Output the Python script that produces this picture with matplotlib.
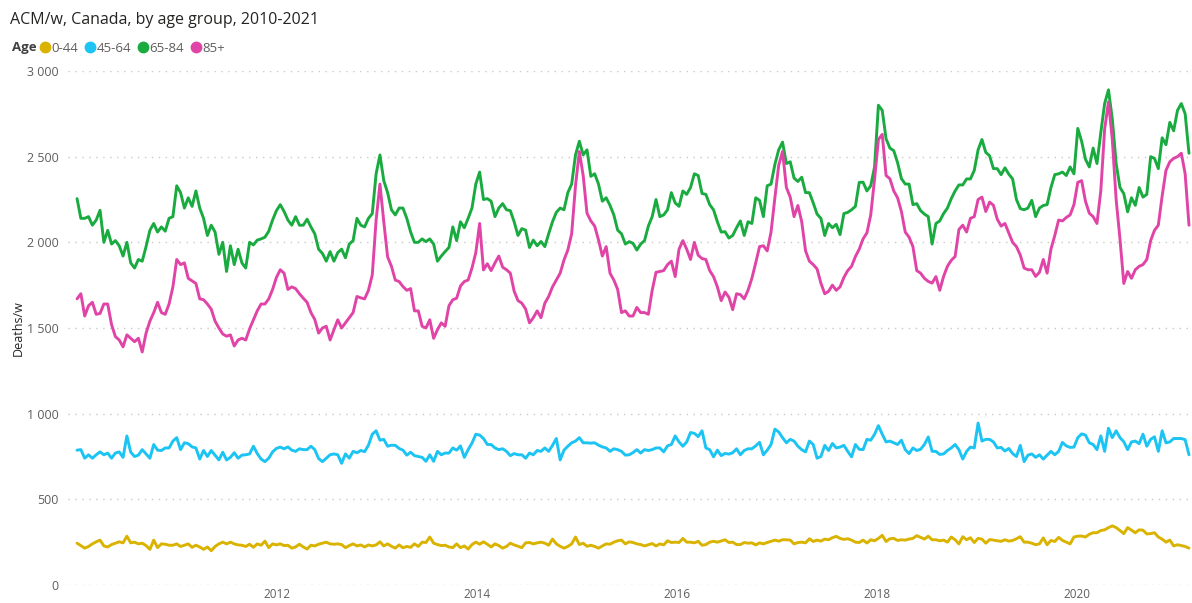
import matplotlib
matplotlib.use('Agg')
import matplotlib.pyplot as plt
from matplotlib.ticker import FuncFormatter, MultipleLocator
from matplotlib.lines import Line2D
import pandas as pd

plt.rcParams['font.family'] = ['Open Sans', 'DejaVu Sans']

# ---------------- data (biweekly samples) ----------------
start_date = '2010-01-02'
sample_freq = '14D'
age_groups = ['0-44', '45-64', '65-84', '85+']
colors = ['#D9B300', '#1BC4F2', '#1AAB40', '#E044A7']
tick_years = [2012, 2014, 2016, 2018, 2020]

deaths_0_44 = [
    244, 230, 215, 225, 240, 252, 262, 228, 222, 236,
    244, 252, 246, 285, 246, 250, 240, 244, 230, 208,
    262, 218, 240, 238, 232, 232, 240, 225, 232, 240,
    220, 232, 222, 208, 222, 200, 225, 240, 250, 240,
    250, 240, 234, 232, 225, 238, 220, 240, 232, 256,
    218, 240, 234, 240, 230, 232, 215, 222, 238, 222,
    210, 232, 228, 238, 244, 250, 240, 238, 240, 236,
    218, 230, 240, 228, 234, 222, 234, 228, 234, 252,
    228, 240, 226, 215, 234, 217, 225, 220, 240, 225,
    250, 248, 280, 244, 236, 230, 232, 222, 218, 240,
    218, 228, 210, 236, 250, 238, 252, 238, 222, 240,
    230, 215, 225, 244, 234, 226, 218, 246, 248, 240,
    246, 250, 244, 232, 268, 240, 226, 215, 225, 240,
    280, 236, 244, 226, 232, 225, 215, 228, 240, 238,
    250, 258, 262, 240, 252, 248, 240, 236, 228, 235,
    242, 228, 240, 234, 258, 248, 250, 248, 272, 250,
    250, 246, 255, 232, 236, 250, 255, 250, 257, 264,
    248, 250, 236, 236, 248, 244, 246, 234, 246, 240,
    248, 255, 262, 256, 264, 264, 262, 240, 248, 250,
    246, 270, 254, 262, 256, 268, 264, 276, 284, 272,
    266, 270, 262, 250, 248, 262, 245, 264, 258, 272,
    290, 254, 270, 272, 260, 264, 262, 268, 272, 288,
    278, 268, 285, 264, 264, 258, 262, 250, 280, 264,
    240, 282, 264, 276, 248, 272, 268, 244, 265, 262,
    258, 255, 264, 256, 260, 270, 282, 250, 250, 244,
    235, 240, 275, 235, 260, 254, 278, 260, 250, 240,
    280, 285, 286, 280, 296, 305, 305, 318, 322, 335,
    345, 335, 318, 300, 335, 320, 305, 322, 320, 298,
    300, 305, 280, 268, 250, 262, 228, 235, 230, 225, 215,
]

deaths_45_64 = [
    787, 790, 740, 760, 740, 760, 777, 760, 770, 740,
    770, 777, 745, 870, 775, 750, 758, 790, 765, 740,
    820, 787, 785, 800, 800, 840, 860, 790, 830, 825,
    806, 800, 735, 785, 750, 785, 758, 730, 775, 730,
    745, 772, 740, 758, 760, 765, 810, 767, 735, 720,
    740, 777, 797, 805, 795, 806, 787, 780, 795, 790,
    790, 810, 790, 738, 720, 740, 760, 765, 760, 710,
    765, 740, 780, 772, 785, 778, 816, 880, 900, 845,
    850, 810, 816, 815, 797, 787, 758, 775, 755, 750,
    745, 722, 760, 722, 780, 760, 770, 770, 800, 787,
    812, 745, 790, 828, 880, 875, 855, 820, 820, 800,
    790, 795, 780, 755, 767, 760, 760, 740, 770, 760,
    785, 780, 800, 780, 815, 855, 730, 787, 810, 830,
    840, 860, 830, 830, 828, 830, 816, 806, 800, 780,
    795, 790, 780, 758, 760, 773, 790, 770, 790, 785,
    790, 800, 800, 777, 812, 820, 870, 835, 810, 835,
    890, 885, 866, 900, 800, 790, 748, 787, 755, 768,
    764, 772, 795, 760, 785, 795, 795, 812, 833, 760,
    787, 820, 910, 893, 860, 830, 850, 840, 810, 790,
    777, 840, 820, 740, 750, 815, 785, 826, 800, 805,
    815, 780, 748, 820, 792, 790, 850, 845, 880, 930,
    880, 835, 840, 830, 820, 845, 790, 767, 800, 785,
    792, 820, 864, 780, 780, 762, 765, 785, 800, 820,
    790, 735, 780, 805, 800, 945, 840, 850, 850, 835,
    800, 803, 782, 797, 767, 750, 815, 720, 758, 765,
    745, 760, 735, 758, 780, 760, 780, 832, 812, 803,
    805, 860, 882, 875, 830, 820, 790, 870, 780, 915,
    860, 900, 860, 836, 790, 835, 840, 825, 880, 810,
    850, 865, 780, 900, 830, 835, 855, 855, 855, 848, 760,
]

deaths_65_84 = [
    2255, 2140, 2140, 2150, 2100, 2130, 2187, 2000, 2070, 1990,
    2010, 1980, 1920, 2000, 1880, 1850, 1900, 1890, 1975, 2070,
    2110, 2060, 2090, 2065, 2140, 2150, 2330, 2290, 2200, 2260,
    2210, 2300, 2200, 2140, 2040, 2100, 2060, 1930, 2000, 1830,
    1980, 1870, 1960, 1880, 1850, 2000, 1985, 2013, 2020, 2030,
    2065, 2130, 2185, 2220, 2180, 2130, 2100, 2150, 2100, 2100,
    2135, 2090, 2050, 1960, 1935, 1890, 1946, 1890, 1940, 1960,
    1910, 1990, 2010, 2140, 2100, 2090, 2140, 2168, 2400, 2510,
    2360, 2290, 2190, 2160, 2200, 2200, 2140, 2060, 2000, 2000,
    2020, 2004, 2020, 1990, 1890, 1920, 1946, 1970, 2090, 2010,
    2120, 2085, 2140, 2200, 2340, 2410, 2250, 2255, 2240, 2150,
    2200, 2226, 2190, 2185, 2120, 2040, 2080, 2071, 1970, 2013,
    1980, 2005, 1975, 2050, 2120, 2175, 2200, 2190, 2290, 2340,
    2510, 2590, 2510, 2540, 2385, 2400, 2340, 2240, 2260, 2216,
    2160, 2071, 2050, 1990, 2004, 1994, 1955, 1990, 2010, 2095,
    2150, 2250, 2150, 2160, 2190, 2290, 2230, 2210, 2300, 2280,
    2320, 2400, 2390, 2285, 2280, 2220, 2190, 2120, 2060, 2062,
    2025, 2040, 2085, 2125, 2040, 2120, 2110, 2260, 2245, 2150,
    2330, 2340, 2455, 2540, 2585, 2460, 2470, 2375, 2355, 2380,
    2290, 2290, 2230, 2165, 2140, 2040, 2110, 2085, 2105, 2045,
    2168, 2175, 2190, 2210, 2350, 2351, 2300, 2330, 2440, 2800,
    2770, 2604, 2550, 2535, 2465, 2372, 2340, 2340, 2220, 2226,
    2185, 2165, 2150, 1990, 2110, 2125, 2168, 2200, 2255, 2300,
    2335, 2335, 2370, 2370, 2420, 2540, 2600, 2525, 2505, 2430,
    2430, 2395, 2435, 2398, 2370, 2250, 2197, 2190, 2200, 2245,
    2150, 2200, 2215, 2220, 2320, 2395, 2400, 2410, 2390, 2440,
    2400, 2665, 2590, 2485, 2440, 2550, 2460, 2640, 2810, 2890,
    2720, 2460, 2320, 2284, 2178, 2260, 2216, 2320, 2264, 2280,
    2500, 2490, 2430, 2610, 2570, 2700, 2651, 2770, 2810, 2750, 2520,
]

deaths_85_plus = [
    1670, 1700, 1570, 1630, 1650, 1580, 1585, 1640, 1640, 1520,
    1450, 1430, 1390, 1460, 1440, 1420, 1440, 1360, 1470, 1540,
    1590, 1650, 1590, 1580, 1640, 1740, 1900, 1870, 1880, 1790,
    1775, 1760, 1670, 1665, 1640, 1610, 1540, 1500, 1465, 1452,
    1460, 1395, 1430, 1440, 1430, 1495, 1548, 1600, 1640, 1640,
    1670, 1725, 1795, 1840, 1820, 1725, 1740, 1730, 1700, 1674,
    1650, 1590, 1550, 1470, 1500, 1510, 1430, 1490, 1548, 1500,
    1530, 1560, 1590, 1684, 1676, 1670, 1720, 1810, 2130, 2340,
    2120, 1915, 1860, 1780, 1771, 1742, 1720, 1730, 1600, 1600,
    1510, 1500, 1548, 1440, 1490, 1530, 1510, 1630, 1665, 1674,
    1745, 1771, 1780, 1850, 1940, 2110, 1839, 1875, 1835, 1880,
    1920, 1855, 1840, 1820, 1715, 1660, 1645, 1610, 1530, 1560,
    1600, 1560, 1645, 1684, 1740, 1780, 1820, 1897, 1955, 2050,
    2330, 2530, 2390, 2170, 2125, 2095, 2014, 1920, 1975, 1820,
    1780, 1725, 1590, 1600, 1570, 1570, 1620, 1590, 1590, 1580,
    1720, 1825, 1830, 1835, 1870, 1890, 1800, 1960, 2010, 1960,
    1900, 2000, 1925, 1905, 1900, 1835, 1800, 1740, 1660, 1710,
    1680, 1607, 1700, 1695, 1670, 1720, 1790, 1880, 1975, 1980,
    1950, 2060, 2260, 2450, 2530, 2320, 2264, 2150, 2215, 2120,
    1950, 1890, 1870, 1845, 1762, 1700, 1714, 1750, 1720, 1740,
    1795, 1835, 1860, 1917, 1960, 2020, 2055, 2160, 2370, 2600,
    2630, 2390, 2371, 2300, 2260, 2180, 2060, 2030, 1975, 1835,
    1820, 1790, 1772, 1762, 1800, 1720, 1801, 1860, 1895, 1917,
    2075, 2100, 2060, 2140, 2150, 2250, 2264, 2180, 2235, 2216,
    2135, 2095, 2110, 2055, 2000, 1975, 1926, 1850, 1840, 1840,
    1801, 1825, 1900, 1820, 1960, 2040, 2130, 2125, 2145, 2160,
    2220, 2350, 2360, 2240, 2170, 2150, 2110, 2300, 2660, 2820,
    2600, 2250, 2020, 1760, 1830, 1790, 1840, 1860, 1870, 1900,
    2010, 2070, 2100, 2270, 2420, 2470, 2490, 2500, 2520, 2400, 2100,
]

series = [deaths_0_44, deaths_45_64, deaths_65_84, deaths_85_plus]

# ---------------- figure ----------------
W, H = 1192, 603
fig = plt.figure(figsize=(W / 100, H / 100), dpi=100)
fig.patch.set_facecolor('white')

ax = fig.add_axes([68 / W, (H - 585) / H, (W - 68) / W, (585 - 71) / H])
ax.set_facecolor('white')

for name, vals, c in zip(age_groups, series, colors):
    d = pd.date_range(start_date, periods=len(vals), freq=sample_freq)
    ax.plot(d, vals, color=c, lw=2.1, solid_joinstyle='round',
            solid_capstyle='round', zorder=3)

ax.set_ylim(0, 3000)
ax.set_xlim(pd.Timestamp('2009-11-30'), pd.Timestamp('2021-02-24'))

ax.yaxis.set_major_locator(MultipleLocator(500))
ax.yaxis.set_major_formatter(
    FuncFormatter(lambda v, p: f'{int(v):,}'.replace(',', ' ')))
ax.set_xticks([pd.Timestamp(f'{y}-01-01') for y in tick_years])
ax.set_xticklabels([str(y) for y in tick_years])

ax.grid(axis='y', color='#C8C8C8', linestyle=(0, (1, 4)), lw=1.0)
ax.grid(axis='x', visible=False)
ax.set_axisbelow(True)
for s in ax.spines.values():
    s.set_visible(False)
ax.tick_params(axis='both', length=0, colors='#605E5C', labelsize=9)
ax.tick_params(axis='y', pad=7)
ax.tick_params(axis='x', pad=2, labelsize=8.5)

fig.text(18 / W, 1 - 328 / H, 'Deaths/w', rotation=90, ha='center',
         va='center', fontsize=9, color='#252423')

fig.text(10 / W, 1 - 20 / H, 'ACM/w, Canada, by age group, 2010-2021',
         ha='left', va='center', fontsize=11.5, color='#252423')

fig.text(12 / W, 1 - 48 / H, 'Age', ha='left', va='center', fontsize=9.5,
         fontweight='bold', color='#404040')
handles = [Line2D([], [], marker='o', linestyle='', markersize=7.5, color=c)
           for c in colors]
fig.legend(handles, age_groups, loc='center left',
           bbox_to_anchor=(40 / W, 1 - 48 / H), ncol=4, frameon=False,
           handlelength=0.7, handletextpad=0.15, columnspacing=0.55,
           fontsize=9.5, labelcolor='#605E5C', borderpad=0, borderaxespad=0)

fig.savefig('out.png', dpi=100, facecolor='white')
